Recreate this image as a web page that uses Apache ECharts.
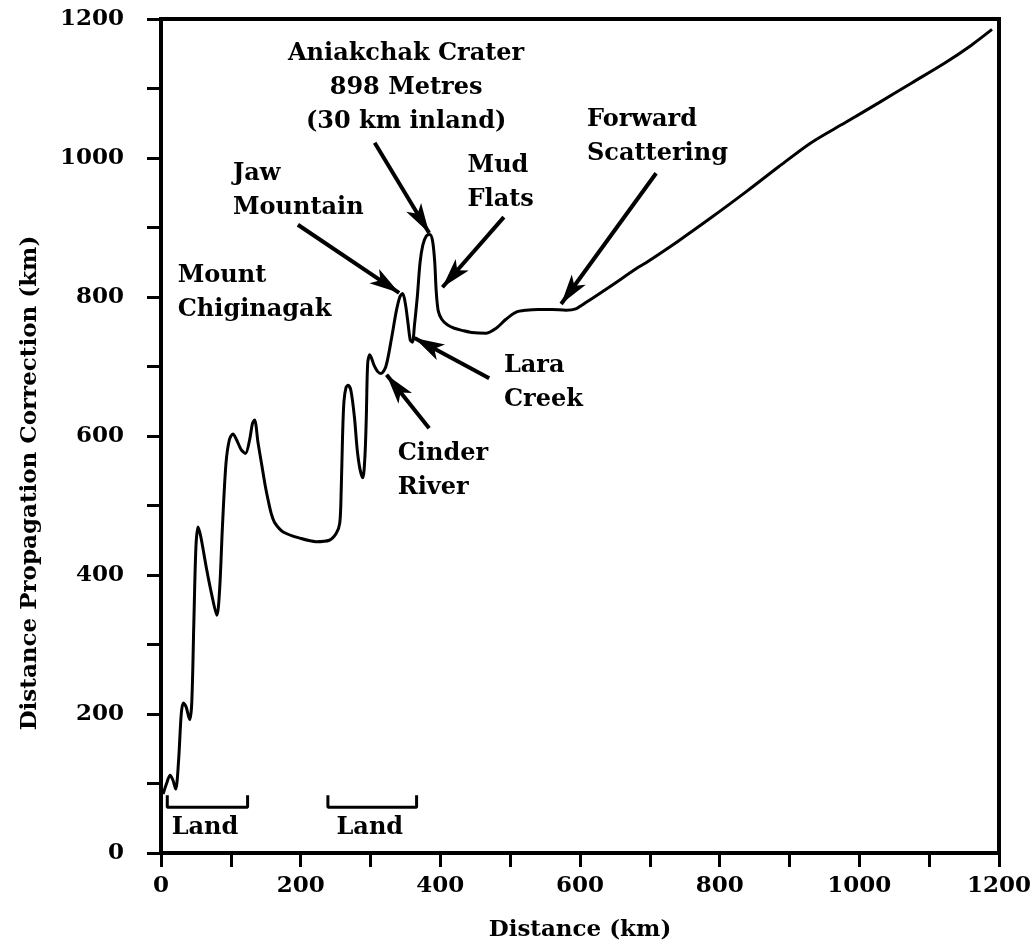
<!DOCTYPE html>
<html>
<head>
<meta charset="utf-8">
<script src="https://cdn.jsdelivr.net/npm/echarts@6/dist/echarts.min.js"></script>
<style>
html,body{margin:0;padding:0;background:#fff;}
#chart{width:1034px;height:951px;}
</style>
</head>
<body>
<div id="chart"></div>
<script>
// ---- data ----
const distanceKm = [3,8,13,17,21,25,29,32,36,41,44,47,50,53,57,65,73,80,84,88,93,98,103,108,115,121,127,131,134,139,144,149,154,158,163,175,199,222,241,251,256,258,260,262,265,268,272,277,281,285,289,292,294,296,299,305,310,315,322,330,337,342,346,350,354,357,360,363,367,371,375,380,385,389,392,394,397,402,410,420,431,445,466,480,494,508,523,540,560,580,594,610,640,684,694,740,789,840,884,931,980,1027,1075,1123,1160,1190];
const correctionKm = [85,100,112,105,92,130,200,216,210,192,215,330,440,469,455,410,370,342,380,470,560,595,603,595,580,575,595,618,623,590,560,530,505,488,475,462,453,448,450,460,475,520,600,650,670,673,665,627,580,552,540,570,627,705,717,702,693,690,700,740,780,800,805,790,760,738,735,760,800,850,875,888,890,880,850,810,780,768,760,755,752,749,748,755,768,778,781,782,782,781,783,793,813,843,849,880,915,953,987,1022,1051,1079,1108,1137,1162,1185];

const yTickLabels = ['0','200','400','600','800','1000','1200'];
const xTickLabels = ['0','200','400','600','800','1000','1200'];

// annotation texts and their anchor points (data units)
const noteTexts = ['Aniakchak Crater\n898 Metres\n(30 km inland)','Jaw\nMountain','Mount\nChiginagak','Mud\nFlats','Forward\nScattering','Lara\nCreek','Cinder\nRiver'];
const noteX = [351,103,24,439,610,491,339];
const noteY = [1101,953,806,964,1030,676,550];
const noteCentered = [true,false,false,false,false,false,false];

// arrows: [fromX, fromY] -> [toX, toY] in data units
const arrowFrom = [[306,1022],[196,904],[491,915],[709,978],[470,683],[384,611]];
const arrowTo   = [[384,892],[341,806],[403,814],[573,790],[363,741],[323,688]];

// land brackets
const land1 = [[9,83],[9,66],[124,66],[124,83]];
const land2 = [[239,83],[239,66],[366,66],[366,83]];
const landLabelX = [63,299];
const landLabelY = [37,37];

const xTitle = 'Distance (km)';
const yTitle = 'Distance Propagation Correction (km)';

// ---- chart ----
const FONT = 'DejaVu Serif';
const FS = 23;
const NOTE_FS = 24;
const chart = echarts.init(document.getElementById('chart'), null, {renderer:'canvas'});

const curve = distanceKm.map((x,i)=>[x, correctionKm[i]]);

const labelBase = {show:true, fontFamily:FONT, fontWeight:'bold', fontSize:NOTE_FS, color:'#000', opacity:1, lineHeight:34, distance:0, verticalAlign:'middle'};

const noteData = noteTexts.map((t,i)=>({
  value:[noteX[i], noteY[i]],
  name:t,
  label:Object.assign({}, labelBase, {
    formatter:t,
    position: noteCentered[i] ? 'inside' : 'right',
    align: noteCentered[i] ? 'center' : 'left'
  })
}));
const landData = landLabelX.map((x,i)=>({
  value:[x, landLabelY[i]], name:'Land',
  label:Object.assign({}, labelBase, {formatter:'Land', position:'inside', align:'center'})
}));

const axisCommon = {
  axisLine:{show:true, onZero:false, lineStyle:{color:'#000', width:4}},
  axisTick:{show:true, inside:false, length:14, lineStyle:{color:'#000', width:3}},
  splitLine:{show:false}
};

const option = {
  animation:false,
  backgroundColor:'#fff',
  grid:{left:161, right:32, top:19, bottom:98, show:true, borderColor:'#000', borderWidth:4},
  graphic:[{
    type:'text', x:30, y:483, rotation:Math.PI/2,
    style:{text:yTitle, fontFamily:FONT, fontWeight:'bold', fontSize:FS, fill:'#000', align:'center', verticalAlign:'middle'}
  }],
  xAxis:Object.assign({}, axisCommon, {
    type:'value', min:0, max:1200, interval:100,
    name:xTitle, nameLocation:'middle', nameGap:66,
    nameTextStyle:{fontFamily:FONT, fontWeight:'bold', fontSize:FS, color:'#000'},
    axisLabel:{
      margin:22, fontFamily:FONT, fontWeight:'bold', fontSize:FS, color:'#000',
      formatter:(v)=> (v%200===0 ? xTickLabels[v/200] : '')
    }
  }),
  yAxis:Object.assign({}, axisCommon, {
    type:'value', min:0, max:1200, interval:100,
    axisLabel:{
      margin:37, fontFamily:FONT, fontWeight:'bold', fontSize:FS, color:'#000',
      formatter:(v)=> (v%200===0 ? yTickLabels[v/200] : '')
    }
  }),
  series:[
    {
      type:'line', data:curve, smooth:0.3, showSymbol:false, silent:true,
      lineStyle:{color:'#000', width:3}, z:5
    },
    {
      type:'line', data:land1, showSymbol:false, silent:true,
      lineStyle:{color:'#000', width:3}
    },
    {
      type:'line', data:land2, showSymbol:false, silent:true,
      lineStyle:{color:'#000', width:3}
    },
    {
      type:'scatter', data:noteData.concat(landData),
      symbolSize:0, silent:true,
      itemStyle:{color:'#000', opacity:1},
      label:labelBase,
      markLine:{
        silent:true, symbol:['none','arrow'], symbolSize:[13,30],
        lineStyle:{color:'#000', width:4, type:'solid', opacity:1},
        label:{show:false},
        data: arrowFrom.map((f,i)=>[{coord:f},{coord:arrowTo[i]}])
      }
    }
  ]
};
chart.setOption(option);
</script>
</body>
</html>
